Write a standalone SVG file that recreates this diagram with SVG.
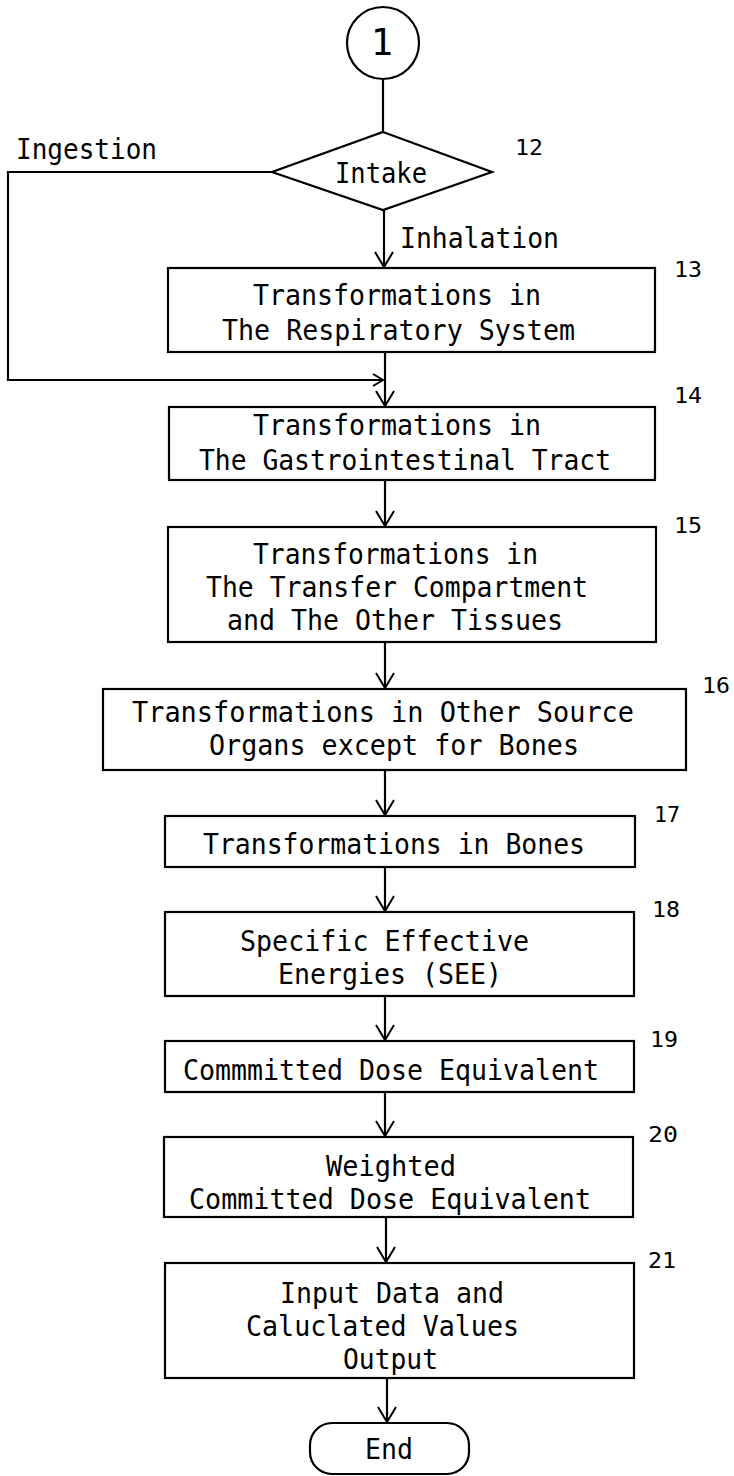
<svg xmlns="http://www.w3.org/2000/svg" width="734" height="1476" viewBox="0 0 734 1476">
<style>
.s{fill:none;stroke:#000;stroke-width:2.2}
.t{font-family:"DejaVu Sans Mono","Liberation Mono",monospace;font-size:28px;fill:#000}
.n{font-family:"DejaVu Sans Mono","Liberation Mono",monospace;font-size:22px;fill:#000}
</style>
<defs>
<marker id="v" markerUnits="userSpaceOnUse" orient="auto" overflow="visible" refX="0" refY="0" markerWidth="20" markerHeight="20">
<path d="M-15,-9 L0,0 L-15,9" fill="none" stroke="#000" stroke-width="2"/>
</marker>
<marker id="h" markerUnits="userSpaceOnUse" orient="auto" overflow="visible" refX="0" refY="0" markerWidth="20" markerHeight="20">
<path d="M-10,-6 L0,0 L-10,6" fill="none" stroke="#000" stroke-width="2"/>
</marker>
</defs>
<rect width="734" height="1476" fill="#fff"/>
<g id="connectors">
<line class="s" x1="383" y1="80" x2="383" y2="132"/>
<line class="s" x1="384" y1="210" x2="384" y2="267" marker-end="url(#v)"/>
<polyline class="s" points="272,172 8,172 8,380 383,380" marker-end="url(#h)"/>
<line class="s" x1="385" y1="352" x2="385" y2="406" marker-end="url(#v)"/>
<line class="s" x1="385" y1="480" x2="385" y2="526" marker-end="url(#v)"/>
<line class="s" x1="385" y1="642" x2="385" y2="688" marker-end="url(#v)"/>
<line class="s" x1="385" y1="770" x2="385" y2="815" marker-end="url(#v)"/>
<line class="s" x1="385" y1="867" x2="385" y2="911" marker-end="url(#v)"/>
<line class="s" x1="385" y1="996" x2="385" y2="1040" marker-end="url(#v)"/>
<line class="s" x1="385" y1="1092" x2="385" y2="1136" marker-end="url(#v)"/>
<line class="s" x1="386" y1="1217" x2="386" y2="1262" marker-end="url(#v)"/>
<line class="s" x1="387" y1="1378" x2="387" y2="1422" marker-end="url(#v)"/>
<text class="t" x="16" y="159" textLength="141" lengthAdjust="spacingAndGlyphs">Ingestion</text>
<text class="t" x="400" y="248" textLength="159" lengthAdjust="spacingAndGlyphs">Inhalation</text>
</g>
<g id="start">
<circle class="s" cx="383" cy="43" r="36"/>
<text class="t" x="382" y="55" text-anchor="middle" style="font-size:37px">1</text>
</g>
<g id="n12">
<polygon class="s" points="383,132 492,172 383,210 272,172"/>
<text class="t" x="335" y="183" textLength="92" lengthAdjust="spacingAndGlyphs">Intake</text>
<text class="n" x="515" y="155" textLength="28" lengthAdjust="spacingAndGlyphs">12</text>
</g>
<g id="n13">
<rect class="s" x="168" y="268" width="487" height="84"/>
<text class="t" x="253" y="305" textLength="288" lengthAdjust="spacingAndGlyphs">Transformations in</text>
<text class="t" x="222" y="340" textLength="353" lengthAdjust="spacingAndGlyphs">The Respiratory System</text>
<text class="n" x="674" y="277" textLength="28" lengthAdjust="spacingAndGlyphs">13</text>
</g>
<g id="n14">
<rect class="s" x="169" y="407" width="486" height="73"/>
<text class="t" x="253" y="435" textLength="288" lengthAdjust="spacingAndGlyphs">Transformations in</text>
<text class="t" x="199" y="470" textLength="412" lengthAdjust="spacingAndGlyphs">The Gastrointestinal Tract</text>
<text class="n" x="674" y="403" textLength="28" lengthAdjust="spacingAndGlyphs">14</text>
</g>
<g id="n15">
<rect class="s" x="168" y="527" width="488" height="115"/>
<text class="t" x="253" y="564" textLength="285" lengthAdjust="spacingAndGlyphs">Transformations in</text>
<text class="t" x="206" y="597" textLength="382" lengthAdjust="spacingAndGlyphs">The Transfer Compartment</text>
<text class="t" x="227" y="630" textLength="336" lengthAdjust="spacingAndGlyphs">and The Other Tissues</text>
<text class="n" x="674" y="533" textLength="28" lengthAdjust="spacingAndGlyphs">15</text>
</g>
<g id="n16">
<rect class="s" x="103" y="689" width="583" height="81"/>
<text class="t" x="132" y="722" textLength="502" lengthAdjust="spacingAndGlyphs">Transformations in Other Source</text>
<text class="t" x="209" y="755" textLength="370" lengthAdjust="spacingAndGlyphs">Organs except for Bones</text>
<text class="n" x="702" y="693" textLength="28" lengthAdjust="spacingAndGlyphs">16</text>
</g>
<g id="n17">
<rect class="s" x="165" y="816" width="470" height="51"/>
<text class="t" x="203" y="854" textLength="382" lengthAdjust="spacingAndGlyphs">Transformations in Bones</text>
<text class="n" x="654" y="822" textLength="26" lengthAdjust="spacingAndGlyphs">17</text>
</g>
<g id="n18">
<rect class="s" x="165" y="912" width="469" height="84"/>
<text class="t" x="240" y="951" textLength="289" lengthAdjust="spacingAndGlyphs">Specific Effective</text>
<text class="t" x="278" y="984" textLength="224" lengthAdjust="spacingAndGlyphs">Energies (SEE)</text>
<text class="n" x="652" y="917" textLength="28" lengthAdjust="spacingAndGlyphs">18</text>
</g>
<g id="n19">
<rect class="s" x="165" y="1041" width="469" height="51"/>
<text class="t" x="183" y="1080" textLength="416" lengthAdjust="spacingAndGlyphs">Commmitted Dose Equivalent</text>
<text class="n" x="650" y="1047" textLength="28" lengthAdjust="spacingAndGlyphs">19</text>
</g>
<g id="n20">
<rect class="s" x="164" y="1137" width="469" height="80"/>
<text class="t" x="326" y="1176" textLength="130" lengthAdjust="spacingAndGlyphs">Weighted</text>
<text class="t" x="189" y="1209" textLength="402" lengthAdjust="spacingAndGlyphs">Committed Dose Equivalent</text>
<text class="n" x="648" y="1142" textLength="30" lengthAdjust="spacingAndGlyphs">20</text>
</g>
<g id="n21">
<rect class="s" x="165" y="1263" width="469" height="115"/>
<text class="t" x="280" y="1303" textLength="224" lengthAdjust="spacingAndGlyphs">Input Data and</text>
<text class="t" x="246" y="1336" textLength="273" lengthAdjust="spacingAndGlyphs">Caluclated Values</text>
<text class="t" x="343" y="1369" textLength="95" lengthAdjust="spacingAndGlyphs">Output</text>
<text class="n" x="648" y="1268" textLength="28" lengthAdjust="spacingAndGlyphs">21</text>
</g>
<g id="end">
<rect class="s" x="310" y="1423" width="159" height="51" rx="22" ry="22"/>
<text class="t" x="365" y="1459" textLength="48" lengthAdjust="spacingAndGlyphs">End</text>
</g>
</svg>
